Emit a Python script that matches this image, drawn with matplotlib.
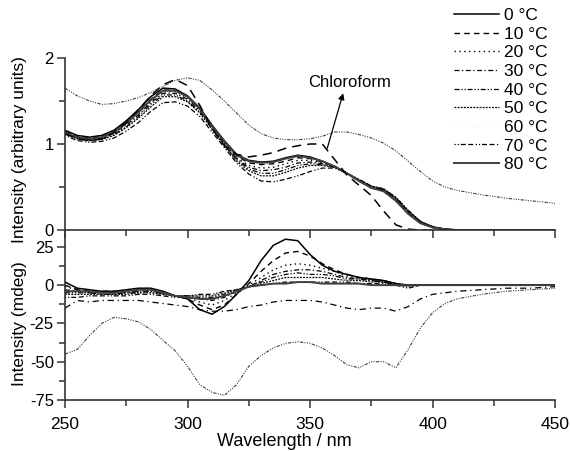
import matplotlib
matplotlib.use("Agg")
import matplotlib.pyplot as plt
from matplotlib.ticker import MultipleLocator, FormatStrFormatter

plt.rcParams['font.family'] = ['Liberation Sans', 'DejaVu Sans']
plt.rcParams['font.size'] = 12.5
plt.rcParams['axes.unicode_minus'] = False

# wavelength grid (nm)
wl = [250, 255, 260, 265, 270, 275, 280, 285, 290, 295, 300, 305, 310, 315, 320,
      325, 330, 335, 340, 345, 350, 355, 360, 365, 370, 375, 380, 385, 390, 395,
      400, 405, 410, 420, 430, 440, 450]

temps = ['0 °C', '10 °C', '20 °C', '30 °C', '40 °C', '50 °C', '60 °C', '70 °C', '80 °C']

# absorption (arbitrary units)
abs_0 = [1.16, 1.10, 1.08, 1.10, 1.16, 1.27, 1.40, 1.55, 1.65, 1.64, 1.56, 1.42, 1.22, 1.04, 0.88, 0.81, 0.79, 0.80, 0.84, 0.87, 0.85, 0.80, 0.74, 0.66, 0.57, 0.49, 0.46, 0.34, 0.19, 0.08, 0.03, 0.01, 0, 0, 0, 0, 0]
abs_10 = [1.15, 1.09, 1.07, 1.09, 1.15, 1.25, 1.38, 1.52, 1.63, 1.62, 1.55, 1.41, 1.21, 1.02, 0.86, 0.78, 0.76, 0.77, 0.80, 0.84, 0.83, 0.79, 0.74, 0.66, 0.57, 0.49, 0.46, 0.35, 0.20, 0.09, 0.03, 0.01, 0, 0, 0, 0, 0]
abs_20 = [1.14, 1.08, 1.06, 1.08, 1.14, 1.24, 1.36, 1.50, 1.61, 1.61, 1.54, 1.40, 1.20, 1.01, 0.84, 0.75, 0.72, 0.73, 0.77, 0.81, 0.81, 0.78, 0.74, 0.66, 0.58, 0.50, 0.47, 0.36, 0.21, 0.09, 0.03, 0.01, 0, 0, 0, 0, 0]
abs_30 = [1.13, 1.07, 1.05, 1.07, 1.13, 1.22, 1.34, 1.48, 1.59, 1.59, 1.52, 1.39, 1.19, 1.00, 0.83, 0.73, 0.69, 0.70, 0.73, 0.78, 0.79, 0.77, 0.73, 0.66, 0.58, 0.50, 0.47, 0.37, 0.22, 0.10, 0.03, 0.01, 0, 0, 0, 0, 0]
abs_40 = [1.12, 1.06, 1.04, 1.06, 1.11, 1.20, 1.32, 1.46, 1.57, 1.57, 1.50, 1.37, 1.18, 0.99, 0.82, 0.71, 0.66, 0.66, 0.70, 0.75, 0.77, 0.76, 0.73, 0.66, 0.58, 0.51, 0.48, 0.38, 0.23, 0.10, 0.04, 0.01, 0, 0, 0, 0, 0]
abs_50 = [1.12, 1.06, 1.04, 1.05, 1.10, 1.19, 1.30, 1.43, 1.55, 1.55, 1.49, 1.36, 1.17, 0.98, 0.80, 0.69, 0.63, 0.63, 0.67, 0.72, 0.75, 0.75, 0.73, 0.66, 0.58, 0.51, 0.48, 0.38, 0.23, 0.10, 0.04, 0.01, 0, 0, 0, 0, 0]
abs_60 = [1.11, 1.05, 1.03, 1.04, 1.09, 1.17, 1.28, 1.41, 1.53, 1.53, 1.47, 1.35, 1.16, 0.97, 0.79, 0.67, 0.61, 0.60, 0.64, 0.69, 0.73, 0.74, 0.72, 0.66, 0.58, 0.51, 0.48, 0.38, 0.23, 0.10, 0.04, 0.01, 0, 0, 0, 0, 0]
abs_70 = [1.10, 1.04, 1.02, 1.03, 1.07, 1.15, 1.25, 1.38, 1.48, 1.49, 1.44, 1.32, 1.14, 0.96, 0.78, 0.65, 0.57, 0.56, 0.59, 0.63, 0.68, 0.72, 0.72, 0.66, 0.59, 0.51, 0.47, 0.37, 0.22, 0.10, 0.04, 0.01, 0, 0, 0, 0, 0]
abs_80 = [1.13, 1.08, 1.06, 1.08, 1.14, 1.24, 1.37, 1.51, 1.62, 1.62, 1.55, 1.41, 1.21, 1.03, 0.87, 0.80, 0.78, 0.79, 0.83, 0.86, 0.84, 0.80, 0.74, 0.66, 0.57, 0.49, 0.45, 0.34, 0.19, 0.08, 0.03, 0.01, 0, 0, 0, 0, 0]
abs_chcl3 = [1.12, 1.06, 1.04, 1.06, 1.13, 1.25, 1.40, 1.56, 1.69, 1.75, 1.68, 1.45, 1.18, 0.98, 0.88, 0.85, 0.87, 0.90, 0.95, 0.98, 1.00, 1.00, 0.82, 0.64, 0.52, 0.40, 0.22, 0.06, 0.01, 0, 0, 0, 0, 0, 0, 0, 0]
abs_upper = [1.65, 1.56, 1.50, 1.46, 1.47, 1.50, 1.54, 1.60, 1.67, 1.74, 1.77, 1.74, 1.63, 1.50, 1.36, 1.22, 1.12, 1.07, 1.05, 1.05, 1.06, 1.09, 1.14, 1.14, 1.11, 1.07, 1.01, 0.92, 0.80, 0.68, 0.57, 0.50, 0.46, 0.41, 0.37, 0.34, 0.31]

# CD (mdeg)
cd_0 = [2, -2, -3, -4, -4, -3, -2, -2, -4, -7, -9, -16, -19, -14, -6, 3, 16, 26, 30, 29, 20, 13, 9, 7, 5, 4, 3, 1, 0, 0, 0, 0, 0, 0, 0, 0, 0]
cd_10 = [0, -3, -4, -4, -4, -4, -3, -3, -5, -7, -9, -13, -16, -13, -6, 1, 9, 16, 21, 22, 19, 14, 10, 7, 5, 4, 3, 1, 0, 0, 0, 0, 0, 0, 0, 0, 0]
cd_20 = [-1, -3, -4, -5, -5, -4, -4, -3, -5, -7, -8, -11, -13, -10, -5, 0, 5, 10, 13, 14, 13, 11, 9, 6, 5, 4, 3, 1, 0, 0, 0, 0, 0, 0, 0, 0, 0]
cd_30 = [-3, -4, -5, -5, -5, -5, -4, -4, -5, -7, -8, -9, -10, -8, -4, -1, 3, 7, 9, 10, 10, 9, 7, 5, 4, 3, 2, 1, 0, 0, 0, 0, 0, 0, 0, 0, 0]
cd_40 = [-5, -5, -5, -6, -6, -5, -5, -4, -6, -7, -7, -8, -8, -6, -3, -1, 2, 5, 7, 8, 7, 7, 6, 4, 4, 3, 2, 0, 0, 0, 0, 0, 0, 0, 0, 0, 0]
cd_50 = [-6, -6, -6, -6, -6, -6, -5, -5, -6, -7, -7, -7, -7, -5, -3, -1, 1, 3, 5, 5, 5, 5, 4, 3, 3, 2, 2, 0, -1, 0, 0, 0, 0, 0, 0, 0, 0]
cd_60 = [-7, -7, -6, -6, -7, -6, -6, -5, -6, -7, -7, -7, -6, -5, -3, -1, 1, 2, 3, 4, 4, 4, 3, 3, 2, 2, 1, 0, -1, 0, 0, 0, 0, 0, 0, 0, 0]
cd_70 = [-8, -8, -7, -7, -7, -7, -6, -6, -7, -8, -7, -6, -6, -4, -3, -1, 0, 1, 2, 2, 2, 2, 2, 2, 1, 1, 1, 0, -2, 0, 0, 0, 0, 0, 0, 0, 0]
cd_80 = [-4, -4, -4, -5, -5, -4, -3, -3, -5, -7, -8, -9, -9, -7, -4, -1, 0, 1, 1, 2, 2, 1, 1, 1, 1, 0, 0, 0, 0, 0, 0, 0, 0, 0, 0, 0, 0]
cd_mid = [-15, -10, -11, -10, -10, -10, -10, -11, -12, -13, -14, -16, -17, -17, -16, -14, -13, -11, -10, -10, -10, -11, -13, -15, -16, -15, -15, -17, -14, -9, -6, -5, -4, -3, -2, -2, -1]
cd_low = [-45, -42, -33, -25, -21, -22, -24, -29, -36, -43, -53, -65, -70, -72, -65, -53, -46, -41, -38, -37, -38, -41, -46, -52, -54, -50, -50, -54, -42, -28, -18, -12, -9, -6, -4, -3, -2]

abs_curves = [abs_0, abs_10, abs_20, abs_30, abs_40, abs_50, abs_60, abs_70, abs_80]
cd_curves = [cd_0, cd_10, cd_20, cd_30, cd_40, cd_50, cd_60, cd_70, cd_80]

styles = [
    dict(ls='-', color='black', lw=1.1),
    dict(ls=(0, (4, 3)), color='black', lw=1.0),
    dict(ls=(0, (1, 2.5)), color='black', lw=1.0),
    dict(ls=(0, (4, 2, 1, 2)), color='black', lw=0.9),
    dict(ls=(0, (4, 1.5, 1, 1.5, 1, 1.5)), color='black', lw=0.9),
    dict(ls=(0, (1.5, 1)), color='black', lw=0.9),
    dict(ls=(0, (1, 4)), color='0.85', lw=0.5),
    dict(ls=(0, (1, 1.5, 1, 1.5, 4, 2, 4, 2)), color='black', lw=0.9),
    dict(ls='-', color='0.25', lw=1.4),
]
outlier_style = dict(ls=(0, (3, 1.2, 1, 1.2, 1, 1.2, 1, 1.2)), color='0.25', lw=0.8)

axis_col = '#333333'
fig = plt.figure(figsize=(5.7, 4.51), dpi=100)
ax1 = fig.add_axes([0.114, 0.490, 0.860, 0.3814])
ax2 = fig.add_axes([0.114, 0.1131, 0.860, 0.3769])

lines = []
for vals, lab, st in zip(abs_curves, temps, styles):
    ln, = ax1.plot(wl, vals, label=lab, **st)
    lines.append(ln)
ax1.plot(wl, abs_chcl3, ls=(0, (6, 4)), color='black', lw=1.1)
ax1.plot(wl, abs_upper, **outlier_style)

for vals, st in zip(cd_curves, styles):
    ax2.plot(wl, vals, **st)
ax2.plot(wl, cd_mid, ls=(0, (5, 3, 1, 3)), color='black', lw=0.9)
ax2.plot(wl, cd_low, **outlier_style)

ax1.annotate('', xy=(363.5, 1.59), xytext=(357, 0.95),
             arrowprops=dict(arrowstyle='-|>', lw=0.9, color='black', mutation_scale=9,
                             shrinkA=0, shrinkB=0))
ax1.text(366, 1.72, 'Chloroform', ha='center', va='center', fontsize=12)

ax1.set_xlim(250, 450)
ax1.set_ylim(0, 2)
ax2.set_xlim(250, 450)
ax2.set_ylim(-75, 36)

for ax in (ax1, ax2):
    ax.spines['top'].set_visible(False)
    ax.spines['right'].set_visible(False)
    for s in ('left', 'bottom'):
        ax.spines[s].set_color(axis_col)
        ax.spines[s].set_linewidth(1.2)
    ax.xaxis.set_major_locator(MultipleLocator(50))
    ax.xaxis.set_minor_locator(MultipleLocator(25))
    ax.tick_params(which='major', direction='out', length=6, width=1.1, color=axis_col, pad=6)
    ax.tick_params(which='minor', direction='out', length=4, width=1.1, color=axis_col)
    ax.tick_params(axis='y', pad=2, labelsize=12)
    ax.patch.set_alpha(0)

ax1.yaxis.set_major_locator(MultipleLocator(1))
ax1.yaxis.set_minor_locator(MultipleLocator(0.5))
ax1.tick_params(axis='x', labelbottom=False)
ax1.yaxis.set_major_formatter(FormatStrFormatter('%d'))
ax2.yaxis.set_major_locator(MultipleLocator(25))
ax2.yaxis.set_minor_locator(MultipleLocator(12.5))

ax1.set_ylabel('Intensity (arbitrary units)')
ax2.set_ylabel('Intensity (mdeg)')
ax1.yaxis.set_label_coords(-0.078, 0.47)
ax2.yaxis.set_label_coords(-0.078, 0.45)
fig.text(284 / 570, 1 - 441 / 451, 'Wavelength / nm', ha='center', va='center', fontsize=13)

fig.legend(handles=lines, loc='upper left', bbox_to_anchor=(454 / 570, 1 - 8 / 451),
           frameon=False, handlelength=2.6, handletextpad=0.3, labelspacing=0.2,
           borderpad=0, borderaxespad=0, fontsize=12.5)

fig.savefig('out.png', dpi=100)
